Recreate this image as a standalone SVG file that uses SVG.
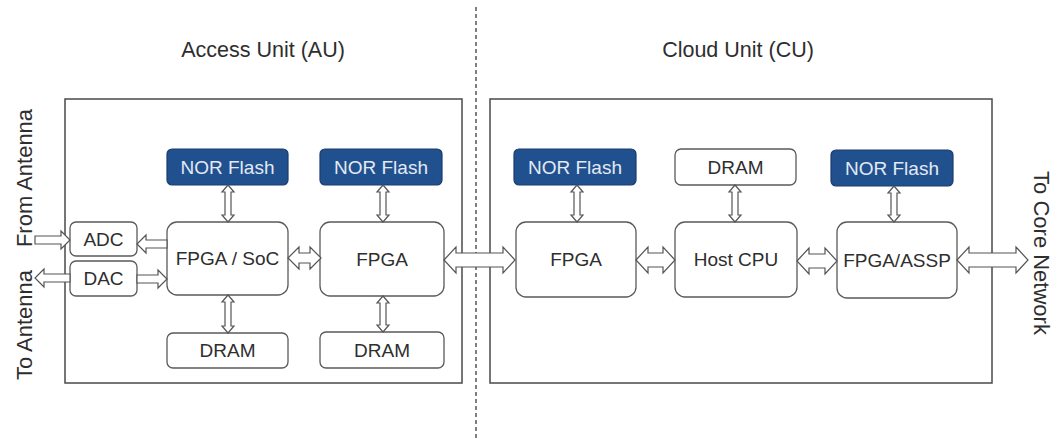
<svg xmlns="http://www.w3.org/2000/svg" width="1062" height="441" viewBox="0 0 1062 441">
<style>
text{font-family:"Liberation Sans",Arial,sans-serif;fill:#2e2e2e;}
.title{font-size:21.5px;text-anchor:middle;}
.side{font-size:22px;text-anchor:middle;}
.lbl{font-size:19px;text-anchor:middle;}
.flash rect{fill:#21508f;stroke:#1a3d6e;stroke-width:1.2;}
.flash text{fill:#e3eaf3;}
.box rect{fill:#fff;stroke:#5a5a5a;stroke-width:1.3;}
.unit{fill:none;stroke:#4a4a4a;stroke-width:1.5;}
.arr path{fill:#fff;stroke:#555;stroke-width:1.2;stroke-linejoin:miter;}
</style>
<rect width="1062" height="441" fill="#fff"/>
<line x1="476" y1="7" x2="476" y2="441" stroke="#555" stroke-width="1.5" stroke-dasharray="4 3"/>
<g id="au"><rect class="unit" x="65" y="99" width="397" height="284"/><text class="title" x="263" y="57">Access Unit (AU)</text></g>
<g id="cu"><rect class="unit" x="490" y="99" width="502" height="284"/><text class="title" x="738" y="57">Cloud Unit (CU)</text></g>
<text class="side" transform="translate(32,178) rotate(-90)">From Antenna</text>
<text class="side" transform="translate(32,325) rotate(-90)">To Antenna</text>
<text class="side" transform="translate(1034,253) rotate(90)">To Core Network</text>

<g id="norflash1" class="flash"><rect x="167" y="149" width="121" height="36" rx="5"/><text class="lbl" x="227.5" y="173.5">NOR Flash</text></g>
<g id="fpgasoc" class="box"><rect x="167" y="222" width="121" height="73" rx="10"/><text class="lbl" x="227.5" y="265">FPGA / SoC</text></g>
<g id="dram1" class="box"><rect x="167" y="333" width="121" height="35" rx="6"/><text class="lbl" x="227.5" y="357">DRAM</text></g>
<g id="adc" class="box"><rect x="70" y="222" width="67" height="34" rx="6"/><text class="lbl" x="103.5" y="245.5">ADC</text></g>
<g id="dac" class="box"><rect x="70" y="261" width="67" height="35" rx="6"/><text class="lbl" x="103.5" y="285">DAC</text></g>
<g id="norflash2" class="flash"><rect x="320" y="149" width="122" height="36" rx="5"/><text class="lbl" x="381" y="173.5">NOR Flash</text></g>
<g id="fpga_au" class="box"><rect x="320" y="222" width="124" height="74" rx="10"/><text class="lbl" x="382" y="265.5">FPGA</text></g>
<g id="dram2" class="box"><rect x="320" y="332" width="124" height="36" rx="6"/><text class="lbl" x="382" y="356.5">DRAM</text></g>
<g id="norflash3" class="flash"><rect x="514" y="149" width="122" height="36" rx="5"/><text class="lbl" x="575" y="173.5">NOR Flash</text></g>
<g id="fpga_cu" class="box"><rect x="516" y="222" width="120" height="75" rx="10"/><text class="lbl" x="576" y="266">FPGA</text></g>
<g id="dram3" class="box"><rect x="675" y="149" width="121" height="36" rx="6"/><text class="lbl" x="735.5" y="173.5">DRAM</text></g>
<g id="hostcpu" class="box"><rect x="675" y="222" width="122" height="75" rx="10"/><text class="lbl" x="736" y="266">Host CPU</text></g>
<g id="norflash4" class="flash"><rect x="831" y="150" width="122" height="36" rx="5"/><text class="lbl" x="892" y="174.5">NOR Flash</text></g>
<g id="fpgaassp" class="box"><rect x="837" y="222" width="120" height="76" rx="10"/><text class="lbl" x="897" y="266.5">FPGA/ASSP</text></g>

<g id="connectors" class="arr">
<path d="M35,236 L61,236 L61,231 L70,240 L61,249 L61,244 L35,244 Z"/>
<path d="M167,240 L146,240 L146,235 L137,244 L146,253 L146,248 L167,248 Z"/>
<path d="M70,274 L44,274 L44,269 L35,278 L44,287 L44,282 L70,282 Z"/>
<path d="M137,275 L158,275 L158,270 L167,279 L158,288 L158,283 L137,283 Z"/>
<path d="M288,258 L299,247 L299,253 L310,253 L310,247 L321,258 L310,269 L310,263 L299,263 L299,269 Z"/>
<path d="M444,260 L456,247 L456,253 L503,253 L503,247 L515,260 L503,273 L503,267 L456,267 L456,273 Z"/>
<path d="M636,260 L648,247 L648,253 L663,253 L663,247 L675,260 L663,273 L663,267 L648,267 L648,273 Z"/>
<path d="M797,261 L809,248 L809,254 L825,254 L825,248 L837,261 L825,274 L825,268 L809,268 L809,274 Z"/>
<path d="M957,260 L969,247 L969,253 L1016,253 L1016,247 L1028,260 L1016,273 L1016,267 L969,267 L969,273 Z"/>
<path d="M228,185 L234,192 L231,192 L231,215 L234,215 L228,222 L222,215 L225,215 L225,192 L222,192 Z"/>
<path d="M228,295 L234,302 L231,302 L231,326 L234,326 L228,333 L222,326 L225,326 L225,302 L222,302 Z"/>
<path d="M383,185 L389,192 L386,192 L386,215 L389,215 L383,222 L377,215 L380,215 L380,192 L377,192 Z"/>
<path d="M383,296 L389,303 L386,303 L386,325 L389,325 L383,332 L377,325 L380,325 L380,303 L377,303 Z"/>
<path d="M577,185 L583,192 L580,192 L580,215 L583,215 L577,222 L571,215 L574,215 L574,192 L571,192 Z"/>
<path d="M735,185 L741,192 L738,192 L738,215 L741,215 L735,222 L729,215 L732,215 L732,192 L729,192 Z"/>
<path d="M894,186 L900,193 L897,193 L897,215 L900,215 L894,222 L888,215 L891,215 L891,193 L888,193 Z"/>
</g>
</svg>
